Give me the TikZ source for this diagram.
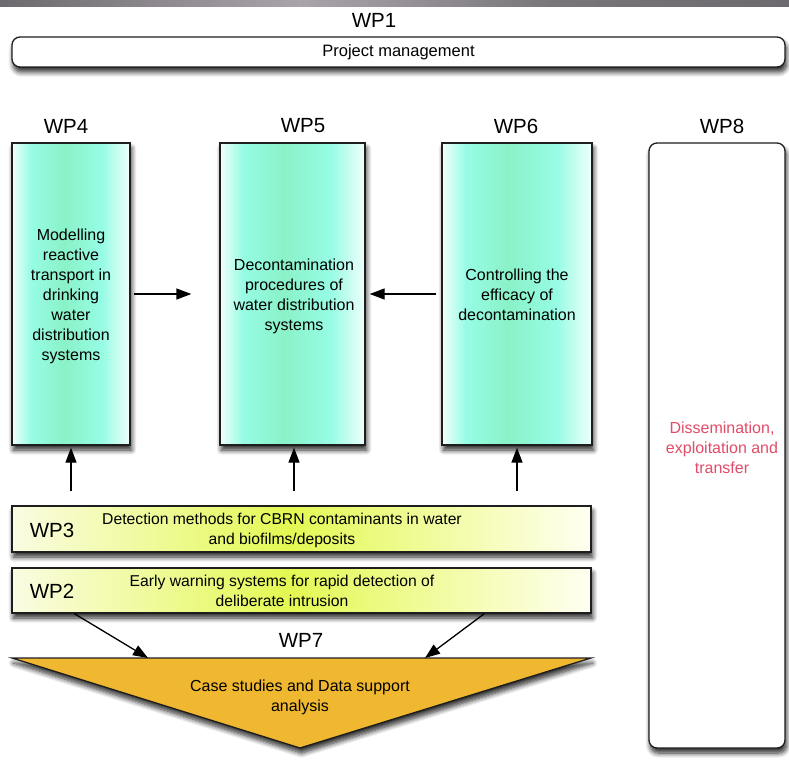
\documentclass[tikz,border=0pt]{standalone}
\usepackage{fontspec}
\setmainfont{Liberation Sans}
\usetikzlibrary{arrows.meta,shadows.blur}
\definecolor{aquaA}{RGB}{150,252,228}
\definecolor{mintA}{RGB}{138,242,200}
\definecolor{yelA}{RGB}{228,248,82}
\definecolor{yelL}{RGB}{250,252,226}
\definecolor{yelR}{RGB}{255,255,242}
\definecolor{orangeT}{RGB}{240,184,48}
\definecolor{pinkT}{RGB}{226,76,104}
\definecolor{barD}{RGB}{108,106,110}
\definecolor{barL}{RGB}{170,164,170}
\definecolor{lineC}{RGB}{30,30,30}
\pgfdeclarehorizontalshading{aquashade}{100bp}{color(0bp)=(white!88!aquaA); color(25bp)=(white!88!aquaA); color(33bp)=(aquaA); color(47bp)=(mintA); color(63bp)=(aquaA); color(75bp)=(white!85!aquaA); color(100bp)=(white!85!aquaA)}
\pgfdeclarehorizontalshading{yelshade}{100bp}{color(0bp)=(yelL); color(25bp)=(yelL); color(49bp)=(yelA); color(75bp)=(yelR); color(100bp)=(yelR)}
\pgfdeclarehorizontalshading{barshade}{100bp}{color(0bp)=(barD); color(25bp)=(barD); color(44bp)=(barL); color(60bp)=(barD!80!barL); color(75bp)=(barD); color(100bp)=(barD)}
\tikzset{
  shad/.style={blur shadow={shadow xshift=1.5pt,shadow yshift=-5pt,shadow blur radius=5pt,shadow blur steps=8,shadow opacity=85}},
  bodytext/.style={font=\fontsize{16}{20}\selectfont, align=center, inner sep=0pt},
  smalltext/.style={font=\fontsize{15.7}{20}\selectfont, align=center, inner sep=0pt},
  wplabel/.style={font=\fontsize{20.5}{23}\selectfont, inner sep=0pt},
  aquabox/.style={draw=lineC, line width=1.3pt, shading=aquashade, shad, inner sep=0pt},
  yelbox/.style={draw=lineC, line width=1.3pt, shading=yelshade, shad, inner sep=0pt, minimum width=579pt},
  whitebox/.style={draw=lineC, line width=1.3pt, fill=white, rounded corners=8pt, shad, inner sep=0pt},
  arr/.style={draw=black, line width=1.3pt, -{Triangle[length=15pt,width=11pt]}}
}
\begin{document}
\begin{tikzpicture}[x=1pt,y=-1pt]
\useasboundingbox (0,0) rectangle (789,767);
% top bar
\shade[shading=barshade] (0,0) rectangle (789,7);
% WP1
\node[wplabel] (wp1l) at (374,20) {WP1};
\node[whitebox, minimum width=773pt, minimum height=30pt, font=\fontsize{16.5}{20}\selectfont] (wp1) at (398.5,52) {Project management};
% WP4 WP5 WP6 labels
\node[wplabel] (wp4l) at (66,126) {WP4};
\node[wplabel] (wp5l) at (303,126) {WP5};
\node[wplabel] (wp6l) at (516,126) {WP6};
\node[wplabel] (wp8l) at (722,126) {WP8};
% columns
\node[aquabox, minimum width=118pt, minimum height=302pt] (wp4) at (71,294) {};
\node[aquabox, minimum width=145pt, minimum height=302pt] (wp5) at (292.5,294) {};
\node[aquabox, minimum width=150pt, minimum height=302pt] (wp6) at (517,294) {};
\node[bodytext] (wp4t) at (71,296) {Modelling\\reactive\\transport in\\drinking\\water\\distribution\\systems};
\node[bodytext] (wp5t) at (294,296) {Decontamination\\procedures of\\water distribution\\systems};
\node[bodytext] (wp6t) at (517,295) {Controlling the\\efficacy of\\decontamination};
% WP8
\node[whitebox, minimum width=136pt, minimum height=605pt] (wp8) at (717,445.5) {};
\node[bodytext, text=pinkT] (wp8t) at (722,448) {Dissemination,\\exploitation and\\transfer};
% WP3 WP2
\node[yelbox, minimum height=46pt] (wp3) at (301.5,529) {};
\node[wplabel] (wp3l) at (52,530) {WP3};
\node[smalltext] (wp3t) at (282,530) {Detection methods for CBRN contaminants in water\\and biofilms/deposits};
\node[yelbox, minimum height=45pt] (wp2) at (301.5,590.5) {};
\node[wplabel] (wp2l) at (52,591) {WP2};
\node[smalltext] (wp2t) at (282,591) {Early warning systems for rapid detection of\\deliberate intrusion};
% WP7 triangle
\node[wplabel] (wp7l) at (301,640) {WP7};
\path[draw=lineC, line width=1.3pt, fill=orangeT, shad] (12,658) -- (591,658) -- (300,748) -- cycle;
\coordinate (t7a) at (148,658);
\coordinate (t7b) at (425,658);
\node[bodytext] (wp7t) at (300,697) {Case studies and Data support\\analysis};
% arrows
\draw[arr, shorten <=3pt, shorten >=28pt] (wp4) -- (wp5);
\draw[arr, shorten <=5pt, shorten >=4pt] (wp6) -- (wp5);
\draw[arr, shorten <=14pt, shorten >=2pt] (wp3.north -| wp4) -- (wp4.south);
\draw[arr, shorten <=14pt, shorten >=2pt] (wp3.north -| wp5t) -- (wp5.south -| wp5t);
\draw[arr, shorten <=14pt, shorten >=2pt] (wp3.north -| wp6) -- (wp6.south);
\draw[arr] ([xshift=63pt]wp2.south west) -- (t7a);
\draw[arr] ([xshift=473pt]wp2.south west) -- (t7b);
\end{tikzpicture}
\end{document}
